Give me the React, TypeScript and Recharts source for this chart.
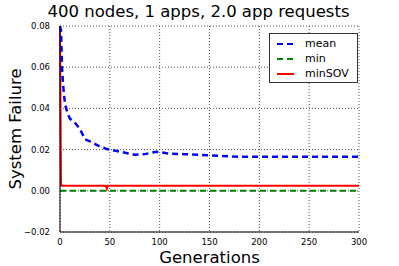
import React from 'react';
import { LineChart, Line, XAxis, YAxis, CartesianGrid, Label } from 'recharts';

const generations = [0, 1, 2, 3, 5, 8, 10, 15, 20, 25, 30, 40, 46, 47, 48, 50, 60, 75, 85, 97, 110, 125, 140, 160, 180, 200, 250, 300];
const meanValues = [0.08, 0.078, 0.06, 0.052, 0.042, 0.037, 0.035, 0.033, 0.03, 0.025, 0.024, 0.0215, 0.0205, 0.0203, 0.0202, 0.02, 0.019, 0.0175, 0.0178, 0.019, 0.018, 0.0178, 0.0175, 0.017, 0.0165, 0.0165, 0.0165, 0.0165];
const minValues = generations.map(() => 0);
const minSovValues = generations.map((g) => (g === 0 ? 0.08 : g === 47 ? 0.001 : 0.0025));

const xTicks = [0, 50, 100, 150, 200, 250, 300];
const yTicks = [-0.02, 0, 0.02, 0.04, 0.06, 0.08];

const FONT = '"DejaVu Sans", sans-serif';

const data = generations.map((g, i) => ({
  gen: g,
  mean: meanValues[i],
  min: minValues[i],
  minSOV: minSovValues[i],
}));

const fmtY = (v: number) => {
  const s = Math.abs(v).toFixed(2);
  return v < 0 ? '\u2212' + s : s;
};

const legendItems = [
  { name: 'mean', color: '#0000ff', dash: '6 4' },
  { name: 'min', color: '#008000', dash: '6 4' },
  { name: 'minSOV', color: '#ff0000', dash: undefined },
];

const LegendBox = () => (
  <div style={{ position: 'absolute', left: 269, top: 33, border: '1px solid #333', background: '#fff', width: 89, height: 50, boxSizing: 'border-box', padding: '2px 0 0 7px', fontFamily: FONT, fontSize: 11 }}>
    {legendItems.map((it) => (
      <div key={it.name} style={{ display: 'flex', alignItems: 'center', height: 15 }}>
        <svg width={18} height={6} style={{ marginRight: 10 }}>
          <line x1={0} y1={3} x2={17} y2={3} stroke={it.color} strokeWidth={2} strokeDasharray={it.dash} />
        </svg>
        <span>{it.name}</span>
      </div>
    ))}
  </div>
);

export default function App() {
  return (
    <div style={{ position: 'absolute', left: 0, top: 0, width: 399, height: 266, background: '#fff' }}>
      <div style={{ position: 'absolute', left: 0, top: 1, width: 397, textAlign: 'center', fontFamily: FONT, fontSize: 16.5, lineHeight: '22px' }}>
        400 nodes, 1 apps, 2.0 app requests
      </div>
      <LineChart width={399} height={266} data={data} margin={{ top: 26, right: 40, bottom: 14, left: 20 }}>
        <CartesianGrid stroke="#555" strokeDasharray="1 2" horizontalValues={yTicks} verticalValues={xTicks} />
        <XAxis
          dataKey="gen"
          type="number"
          domain={[0, 300]}
          ticks={xTicks}
          height={20}
          stroke="#000"
          tickLine={false}
          tickMargin={1}
          tick={{ fill: '#000', fontSize: 8.5, fontFamily: FONT }}
          interval={0}
        >
          <Label value="Generations" position="insideBottom" offset={-11} style={{ fontSize: 16.5, fontFamily: FONT, fill: '#000' }} />
        </XAxis>
        <XAxis xAxisId="top" orientation="top" type="number" domain={[0, 300]} height={0} tick={false} tickLine={false} stroke="#000" />
        <YAxis
          type="number"
          domain={[-0.02, 0.08]}
          ticks={yTicks}
          width={40}
          stroke="#000"
          tickLine={false}
          tickMargin={4}
          tickFormatter={fmtY}
          tick={{ fill: '#000', fontSize: 8.5, fontFamily: FONT }}
          interval={0}
        >
          <Label value="System Failure" angle={-90} position="insideLeft" offset={-5} style={{ fontSize: 16.5, fontFamily: FONT, fill: '#000', textAnchor: 'middle' }} />
        </YAxis>
        <YAxis yAxisId="right" orientation="right" type="number" domain={[-0.02, 0.08]} width={0} tick={false} tickLine={false} stroke="#000" />
        <Line dataKey="minSOV" stroke="#ff0000" strokeWidth={2} dot={false} isAnimationActive={false} />
        <Line dataKey="min" stroke="#008000" strokeWidth={2} strokeDasharray="6 4" dot={false} isAnimationActive={false} />
        <Line dataKey="mean" stroke="#0000ff" strokeWidth={2.5} strokeDasharray="6 4" dot={false} isAnimationActive={false} />
      </LineChart>
      <LegendBox />
    </div>
  );
}
